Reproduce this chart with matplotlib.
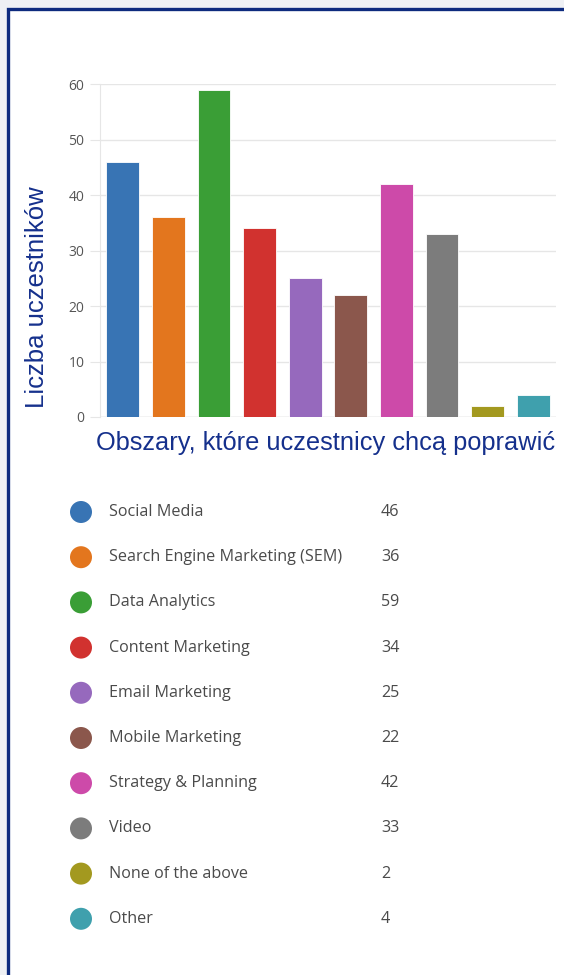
import matplotlib.pyplot as plt
from matplotlib.patches import Rectangle, Circle

# Survey answers: areas participants want to improve
categories = ["Social Media", "Search Engine Marketing (SEM)", "Data Analytics",
              "Content Marketing", "Email Marketing", "Mobile Marketing",
              "Strategy & Planning", "Video", "None of the above", "Other"]
counts = [46, 36, 59, 34, 25, 22, 42, 33, 2, 4]
colors = ["#3874b4", "#e3761e", "#3a9e36", "#d1322f", "#9669bd",
          "#8b574c", "#cd4aa9", "#7c7c7c", "#a3991f", "#3fa0ad"]
yticks = [0, 10, 20, 30, 40, 50, 60]

W, H = 564, 975
fig = plt.figure(figsize=(W / 100, H / 100), dpi=100)
fig.patch.set_facecolor("#eef0f4")

# White panel with navy frame
fig.patches.append(Rectangle((7.5 / W, -0.01), 1.0, 1 - 8.5 / H + 0.01,
                             transform=fig.transFigure, facecolor="white",
                             edgecolor="#0d2a7e", linewidth=2.4, zorder=-5))

navy = "#15308c"
ax = fig.add_axes([100 / W, 1 - 417 / H, 456 / W, 333 / H])
ax.set_facecolor("none")
x = range(len(counts))
ax.bar(x, counts, width=0.72, color=colors, edgecolor="white", linewidth=0.6,
       zorder=3)
ax.set_xlim(-0.5, len(counts) - 0.5)
ax.set_ylim(0, 60)
ax.set_yticks(yticks)
ax.set_xticks([])
ax.grid(axis="y", color="#e6e6e6", linewidth=1, zorder=0)
for s in ["top", "right", "bottom"]:
    ax.spines[s].set_visible(False)
ax.spines["left"].set_color("#e6e6e6")
ax.tick_params(axis="y", length=7.2, color="#e6e6e6", labelsize=10,
               labelcolor="#555555", pad=4)
for lab in ax.get_yticklabels():
    lab.set_family("Open Sans")
ax.axhline(0, color="#d9d9d9", linewidth=1, zorder=2)

fig.text(37 / W, 1 - 297 / H, "Liczba uczestników", rotation=90,
         ha="center", va="center", fontsize=18.5, color=navy,
         family="Liberation Sans")
fig.text(326 / W, 1 - 443 / H, "Obszary, które uczestnicy chcą poprawić",
         ha="center", va="center", fontsize=18.3, color=navy,
         family="Liberation Sans")

# Legend list with counts
row0, step = 512, 45.2
for i, (name, val, c) in enumerate(zip(categories, counts, colors)):
    yy = row0 + i * step
    fig.patches.append(Circle((81, H - yy), 11, transform=None,
                              facecolor=c, edgecolor="none"))
    fig.text(109 / W, 1 - yy / H, name, ha="left", va="center",
             fontsize=11.6, color="#4a4a4a", family="Open Sans")
    fig.text(381 / W, 1 - yy / H, str(val), ha="left", va="center",
             fontsize=11.6, color="#4a4a4a", family="Open Sans")

fig.savefig("out.png", dpi=100)
